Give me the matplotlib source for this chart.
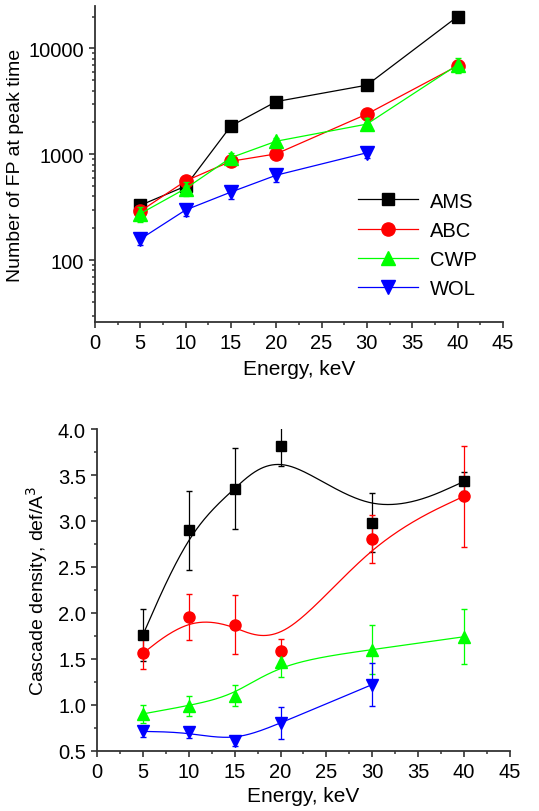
import numpy as np
import matplotlib
matplotlib.use("Agg")
import matplotlib.pyplot as plt
from matplotlib.ticker import MultipleLocator, LogLocator, FixedLocator, NullFormatter

plt.rcParams['font.family'] = ['Liberation Sans', 'DejaVu Sans']

# energies (keV)
energy = [5, 10, 15, 20, 30, 40]
energy_wol = [5, 10, 15, 20, 30]

# number of FP at peak time
fp_ams = [330, 500, 1850, 3150, 4500, 20000]
fp_abc = [290, 560, 860, 1010, 2400, 6850]
fp_cwp = [275, 475, 930, 1330, 1930, 7000]
fp_wol = [158, 298, 440, 635, 1035]
fp_ams_err = [20, 40, 60, 80, 150, 300]
fp_abc_err = [25, 40, 50, 60, 120, 800]
fp_cwp_err = [45, 70, 90, 90, 250, 1100]
fp_wol_err = [20, 35, 60, 90, 120]

# cascade density
cd_ams = [1.76, 2.90, 3.35, 3.82, 2.98, 3.43]
cd_abc = [1.56, 1.95, 1.87, 1.59, 2.80, 3.27]
cd_cwp = [0.90, 0.99, 1.10, 1.46, 1.60, 1.74]
cd_wol = [0.71, 0.70, 0.60, 0.80, 1.22]
cd_ams_err = [0.28, 0.43, 0.44, 0.22, 0.32, 0.10]
cd_abc_err = [0.17, 0.25, 0.32, 0.13, 0.26, 0.55]
cd_cwp_err = [0.10, 0.11, 0.11, 0.16, 0.27, 0.30]
cd_wol_err = [0.06, 0.06, 0.05, 0.17, 0.23]

labels = ['AMS', 'ABC', 'CWP', 'WOL']
colors = ['black', '#ff0000', '#00ff00', '#0000ff']
markers = ['s', 'o', '^', 'v']


def bspline(px, py, n=60):
    # uniform cubic B-spline, end control points tripled so the curve hits the ends
    q = np.column_stack([px, py]).astype(float)
    q = np.vstack([q[0], q[0], q, q[-1], q[-1]])
    M = np.array([[-1, 3, -3, 1], [3, -6, 3, 0], [-3, 0, 3, 0], [1, 4, 1, 0]]) / 6.0
    t = np.linspace(0, 1, n)
    T = np.column_stack([t**3, t**2, t, np.ones_like(t)])
    pts = [T @ M @ q[j:j + 4] for j in range(len(q) - 3)]
    pts = np.vstack(pts)
    return pts[:, 0], pts[:, 1]


def style_axes(ax, xpad):
    for s in ['top', 'right']:
        ax.spines[s].set_visible(False)
    for s in ['left', 'bottom']:
        ax.spines[s].set_color('#333333')
        ax.spines[s].set_linewidth(1.3)
    ax.tick_params(which='major', direction='out', length=4, width=1.2,
                   color='#333333', labelsize=14.5, pad=4)
    ax.tick_params(which='minor', direction='out', length=2.5, width=1.1,
                   color='#333333')
    ax.set_xlim(0, 45)
    ax.xaxis.set_major_locator(MultipleLocator(5))
    ax.xaxis.set_minor_locator(MultipleLocator(2.5))
    ax.set_xlabel('Energy, keV', fontsize=15, labelpad=xpad)


fig = plt.figure(figsize=(5.39, 8.12), dpi=100)

# top panel
ax1 = fig.add_axes([0.176, 0.602, 0.757, 0.389])
fp = [fp_ams, fp_abc, fp_cwp, fp_wol]
fp_err = [fp_ams_err, fp_abc_err, fp_cwp_err, fp_wol_err]
msz = [8.5, 9.5, 9.5, 9.5]
handles = []
for i in range(4):
    xs = energy if i < 3 else energy_wol
    ax1.errorbar(xs, fp[i], yerr=fp_err[i], color=colors[i], ls='none',
                 elinewidth=0.9, capsize=2.5)
    h, = ax1.plot(xs, fp[i], color=colors[i], marker=markers[i],
                  ms=msz[i], lw=0.9, label=labels[i])
    handles.append(h)
ax1.set_yscale('log')
ax1.set_ylim(26, 25000)
ax1.yaxis.set_major_locator(FixedLocator([100, 1000, 10000]))
ax1.yaxis.set_major_formatter(plt.FuncFormatter(lambda v, p: '%d' % v))
ax1.yaxis.set_minor_locator(LogLocator(base=10, subs=np.arange(2, 10)))
ax1.yaxis.set_minor_formatter(NullFormatter())
style_axes(ax1, 5)
ax1.set_ylabel('Number of FP at peak time', fontsize=14, labelpad=3)
ax1.legend(handles=handles, loc='lower left', bbox_to_anchor=(0.6, 0.02),
           frameon=False, fontsize=14.5, handlelength=3.0, labelspacing=0.5,
           handletextpad=0.6)

# bottom panel
ax2 = fig.add_axes([0.180, 0.0743, 0.766, 0.396])
cd = [cd_ams, cd_abc, cd_cwp, cd_wol]
cd_err = [cd_ams_err, cd_abc_err, cd_cwp_err, cd_wol_err]
msz2 = [7, 8, 8, 8]
for i in range(4):
    xs = energy if i < 3 else energy_wol
    ax2.errorbar(xs, cd[i], yerr=cd_err[i], color=colors[i], marker=markers[i],
                 ms=msz2[i], ls='none', elinewidth=0.9, capsize=2.5)
    bx, by = bspline(xs, cd[i])
    ax2.plot(bx, by, color=colors[i], lw=0.9)
ax2.set_ylim(0.5, 4.0)
ax2.yaxis.set_major_locator(MultipleLocator(0.5))
ax2.yaxis.set_minor_locator(MultipleLocator(0.25))
ax2.yaxis.set_major_formatter(plt.FuncFormatter(lambda v, p: '%.1f' % v))
style_axes(ax2, 4)
ax2.set_ylabel('Cascade density, def/A$^3$', fontsize=14, labelpad=6)

fig.savefig('out.png', dpi=100)
